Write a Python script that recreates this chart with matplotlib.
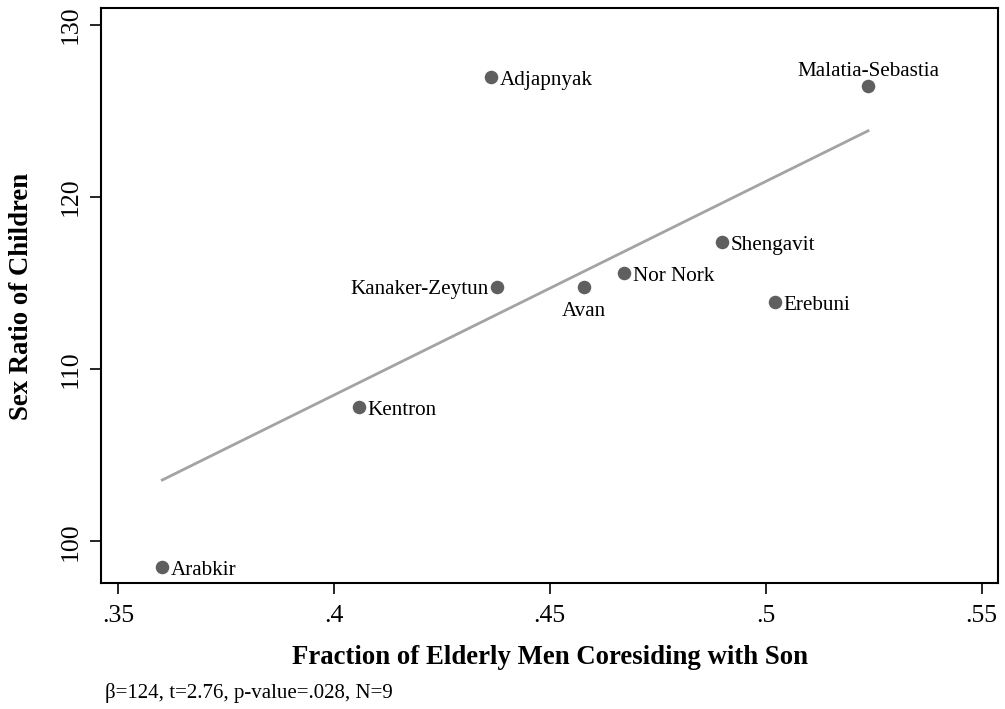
import numpy as np
import matplotlib
matplotlib.use("Agg")
import matplotlib.pyplot as plt

districts = ["Arabkir", "Kentron", "Kanaker-Zeytun", "Adjapnyak", "Avan",
             "Nor Nork", "Shengavit", "Erebuni", "Malatia-Sebastia"]
frac_elderly = [0.3603, 0.4058, 0.4377, 0.4364, 0.4579, 0.4673, 0.4900, 0.5022, 0.5237]
sex_ratio = [98.49, 107.81, 114.78, 126.98, 114.78, 115.60, 117.40, 113.91, 126.45]
label_pos = ["right", "right", "left", "right", "below", "right", "right", "right", "above"]
xticks = [0.35, 0.40, 0.45, 0.50, 0.55]
xticklabels = [".35", ".4", ".45", ".5", ".55"]
yticks = [100, 110, 120, 130]
note = "\u03b2=124, t=2.76, p-value=.028, N=9"

plt.rcParams['font.family'] = ['Liberation Serif', 'DejaVu Serif']

W, H = 1005, 709
fig = plt.figure(figsize=(W / 100, H / 100), dpi=100)
ax = fig.add_axes([101 / W, 1 - 583 / H, (998 - 101) / W, (583 - 8) / H])

x = np.array(frac_elderly)
y = np.array(sex_ratio)
b, a = np.polyfit(x, y, 1)
xs = np.array([x.min(), x.max()])
ax.plot(xs, a + b * xs, color="#a3a3a3", lw=2, zorder=1)
ax.scatter(x, y, s=95, color="#5f5f5f", zorder=3, linewidths=0)

FS = 15.2
for name, xi, yi, pos in zip(districts, x, y, label_pos):
    if pos == "right":
        ax.annotate(name, (xi, yi), xytext=(6, -2.5), textcoords="offset points",
                    ha="left", va="center", fontsize=FS)
    elif pos == "left":
        ax.annotate(name, (xi, yi), xytext=(-6, -1.5), textcoords="offset points",
                    ha="right", va="center", fontsize=FS)
    elif pos == "below":
        ax.annotate(name, (xi, yi), xytext=(0, -11), textcoords="offset points",
                    ha="center", va="top", fontsize=FS)
    else:
        ax.annotate(name, (xi, yi), xytext=(0, 3.5), textcoords="offset points",
                    ha="center", va="bottom", fontsize=FS)

ax.set_xlim(0.3461, 0.5538)
ax.set_ylim(97.58, 130.99)
ax.set_xticks(xticks)
ax.set_xticklabels(xticklabels, fontsize=18.5)
ax.set_yticks(yticks)
ax.set_yticklabels([str(t) for t in yticks], fontsize=18.5, rotation=90, va="center")
ax.tick_params(axis="x", direction="out", length=8, width=1.2, pad=8, colors="black")
ax.tick_params(axis="y", direction="out", length=8, width=1.2, pad=6, colors="black")
for s in ax.spines.values():
    s.set_linewidth(1.5)

fig.text(550 / W, 1 - 658 / H, "Fraction of Elderly Men Coresiding with Son",
         ha="center", va="center", fontsize=19.3, fontweight="bold")
fig.text(22 / W, 1 - 296 / H, "Sex Ratio of Children", rotation=90,
         ha="center", va="center", fontsize=19.3, fontweight="bold")
fig.text(105 / W, 1 - 693 / H, note, ha="left", va="center", fontsize=15)

fig.savefig("out.png", dpi=100, facecolor="white")
